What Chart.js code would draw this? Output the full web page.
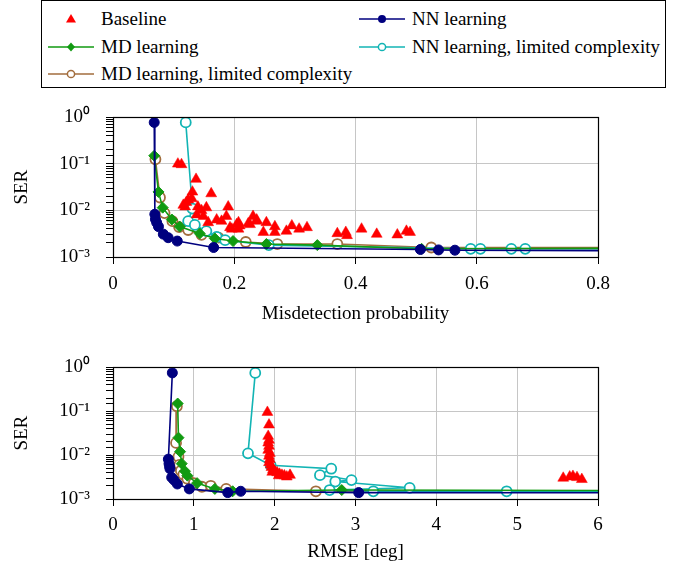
<!DOCTYPE html>
<html>
<head>
<meta charset="utf-8">
<script src="https://cdn.jsdelivr.net/npm/chart.js@4.4.0/dist/chart.umd.min.js"></script>
<style>
  body { margin: 0; background: #fff; width: 689px; height: 572px; overflow: hidden; position: relative;
         font-family: "Liberation Serif", "Times New Roman", serif; color: #000; }
  #legend { position: absolute; left: 41px; top: 0; width: 625px; height: 88px; border: 1px solid #000; box-sizing: border-box; }
  .item { position: absolute; display: flex; align-items: center; height: 24px; font-size: 19px; white-space: nowrap; }
  .item svg { margin-right: 7px; }
  canvas { position: absolute; left: 0; }
</style>
</head>
<body>
<div id="legend"></div>
<canvas id="top" width="689" height="250" style="top:90px"></canvas>
<canvas id="bottom" width="689" height="232" style="top:340px"></canvas>
<script>
// ---- data: top plot (misdetection probability vs SER) ----
const topBaseX = [0.107, 0.113, 0.137, 0.131, 0.162, 0.130, 0.124, 0.121, 0.116, 0.119, 0.140, 0.154, 0.190, 0.146,
  0.138, 0.149, 0.187, 0.231, 0.171, 0.237, 0.157, 0.179, 0.237, 0.207, 0.253, 0.223, 0.204, 0.226, 0.193, 0.207,
  0.196, 0.209, 0.248, 0.267, 0.267, 0.286, 0.295, 0.307, 0.320, 0.370, 0.384, 0.386, 0.410, 0.435, 0.469, 0.484, 0.490];
const topBaseSer = [0.100, 0.097, 0.047, 0.025, 0.023, 0.018, 0.017, 0.015, 0.013, 0.012, 0.012, 0.0115, 0.012, 0.010,
  0.0081, 0.0075, 0.0075, 0.0075, 0.0063, 0.0063, 0.0055, 0.0059, 0.0059, 0.0055, 0.0055, 0.0052, 0.0050, 0.0050, 0.0043, 0.0040,
  0.0040, 0.0047, 0.0034, 0.0045, 0.0034, 0.0036, 0.0047, 0.0040, 0.0043, 0.0032, 0.0034, 0.0029, 0.0040, 0.0031, 0.0030, 0.0036, 0.0034];

const topNnX = [0.068, 0.069, 0.070, 0.072, 0.075, 0.083, 0.091, 0.106, 0.166, 0.507, 0.537, 0.564, 0.95];
const topNnSer = [0.78, 0.0083, 0.0065, 0.0055, 0.0045, 0.0031, 0.0026, 0.0022, 0.0016, 0.00145, 0.00142, 0.0014, 0.00135];

const topMdX = [0.068, 0.075, 0.082, 0.097, 0.110, 0.143, 0.168, 0.198, 0.253, 0.337, 0.509, 0.95];
const topMdSer = [0.15, 0.025, 0.0115, 0.0064, 0.0045, 0.0032, 0.0025, 0.0022, 0.0019, 0.0018, 0.0015, 0.00155];

const topNnLimX = [0.120, 0.131, 0.124, 0.135, 0.154, 0.171, 0.185, 0.257, 0.590, 0.606, 0.657, 0.680, 0.95];
const topNnLimSer = [0.78, 0.011, 0.0059, 0.0049, 0.0036, 0.0027, 0.0023, 0.0018, 0.0015, 0.0015, 0.0015, 0.0015, 0.0015];

const topMdLimX = [0.070, 0.0775, 0.085, 0.098, 0.109, 0.124, 0.146, 0.174, 0.219, 0.271, 0.370, 0.525, 0.95];
const topMdLimSer = [0.126, 0.019, 0.0088, 0.0059, 0.0044, 0.0038, 0.0030, 0.0026, 0.0021, 0.0019, 0.0019, 0.0016, 0.00158];

// ---- data: bottom plot (RMSE in degrees vs SER) ----
const botBaseX = [1.91, 1.93, 1.92, 1.93, 1.92, 1.93, 1.92, 1.94, 1.93, 1.94, 1.93, 1.95, 1.96, 1.98, 2.00, 2.03, 2.06,
  2.09, 2.12, 2.15, 2.19, 2.05, 1.97, 5.57, 5.65, 5.69, 5.74, 5.80];
const botBaseSer = [0.095, 0.049, 0.027, 0.022, 0.019, 0.016, 0.013, 0.011, 0.0095, 0.008, 0.0068, 0.006, 0.0053, 0.0047,
  0.0043, 0.0040, 0.0037, 0.0035, 0.0034, 0.0032, 0.0035, 0.0034, 0.0041, 0.0030, 0.0032, 0.0033, 0.0031, 0.0028];

const botNnX = [0.734, 0.685, 0.693, 0.700, 0.705, 0.726, 0.755, 0.796, 0.944, 1.42, 1.58, 3.04, 6.5];
const botNnSer = [0.75, 0.0081, 0.0064, 0.0055, 0.0049, 0.0031, 0.0027, 0.0022, 0.0017, 0.0014, 0.0015, 0.0014, 0.00139];

const botMdX = [0.80, 0.81, 0.83, 0.85, 0.89, 0.92, 1.04, 1.26, 1.48, 2.83, 6.5];
const botMdSer = [0.15, 0.025, 0.012, 0.0064, 0.0043, 0.0034, 0.0023, 0.0017, 0.0015, 0.0016, 0.00155];

const botNnLimX = [1.76, 1.67, 1.95, 2.70, 2.56, 2.95, 2.75, 3.67, 2.68, 3.22, 4.87, 6.5];
const botNnLimSer = [0.75, 0.011, 0.0059, 0.0049, 0.0035, 0.0027, 0.0025, 0.0018, 0.0016, 0.0015, 0.0015, 0.0015];

const botMdLimX = [0.79, 0.78, 0.81, 0.82, 0.84, 0.87, 0.92, 1.00, 1.10, 1.21, 1.40, 2.51, 6.5];
const botMdLimSer = [0.13, 0.019, 0.0092, 0.0060, 0.0044, 0.0036, 0.0029, 0.0023, 0.0019, 0.0020, 0.0017, 0.0015, 0.0015];

const seriesNames = ["Baseline", "NN learning", "MD learning", "NN learning, limited complexity", "MD learning, limited complexity"];
const topTicks = [0, 0.2, 0.4, 0.6, 0.8];
const botTicks = [0, 1, 2, 3, 4, 5, 6];

const RED = "#ff0000", NAVY = "#00007f", GREEN = "#119a11", CYAN = "#12b4b4", BROWN = "#a26d3d";
const FONT = "'Liberation Serif', 'Times New Roman', serif";

const zip = (xs, ys) => xs.map((x, i) => ({ x: x, y: ys[i] }));
const SUP = { "0": "\u2070", "1": "\u00b9", "2": "\u00b2", "3": "\u00b3", "-": "\u207b" };
const isDecade = (v) => Math.abs(Math.log10(v) - Math.round(Math.log10(v))) < 1e-9;

function buildDatasets(d) {
    return [
        { label: seriesNames[0], data: zip(d[0][0], d[0][1]), showLine: false, pointStyle: "triangle",
          pointRadius: 6.3, backgroundColor: RED, borderColor: RED, borderWidth: 0.5 },
        { label: seriesNames[1], data: zip(d[1][0], d[1][1]), showLine: true, borderColor: NAVY, borderWidth: 1.6,
          pointStyle: "circle", pointRadius: 5, pointBackgroundColor: NAVY, pointBorderColor: NAVY, pointBorderWidth: 1 },
        { label: seriesNames[2], data: zip(d[2][0], d[2][1]), showLine: true, borderColor: GREEN, borderWidth: 1.6,
          pointStyle: "rectRot", pointRadius: 5.5, pointBackgroundColor: GREEN, pointBorderColor: GREEN, pointBorderWidth: 1 },
        { label: seriesNames[3], data: zip(d[3][0], d[3][1]), showLine: true, borderColor: CYAN, borderWidth: 1.6,
          pointStyle: "circle", pointRadius: 5, pointBackgroundColor: "#fff", pointBorderColor: CYAN, pointBorderWidth: 1.8 },
        { label: seriesNames[4], data: zip(d[4][0], d[4][1]), showLine: true, borderColor: BROWN, borderWidth: 1.6,
          pointStyle: "circle", pointRadius: 5, pointBackgroundColor: "#fff", pointBorderColor: BROWN, pointBorderWidth: 1.8 },
    ].map((ds) => Object.assign(ds, { tension: 0, clip: 0, pointHoverRadius: ds.pointRadius }));
}

// full box around the plot area, like the pgfplots frame
const framePlugin = {
    id: "frame",
    afterDraw(chart) {
        const a = chart.chartArea, ctx = chart.ctx;
        ctx.save();
        ctx.strokeStyle = "#000";
        ctx.lineWidth = 1.2;
        ctx.strokeRect(Math.round(a.left) + 0.5, Math.round(a.top) + 0.5,
            Math.round(a.right - a.left), Math.round(a.bottom - a.top));
        ctx.restore();
    },
};

function makeChart(id, datasets, xTicks, xTitle, pad, xHeight, tickPad, titlePad) {
    const xMax = xTicks[xTicks.length - 1];
    return new Chart(document.getElementById(id), {
        type: "scatter",
        data: { datasets: datasets },
        plugins: [framePlugin],
        options: {
            responsive: false,
            animation: false,
            events: [],
            layout: { padding: { left: 0, right: 91, top: pad, bottom: 0 } },
            plugins: { legend: { display: false }, tooltip: { enabled: false } },
            scales: {
                x: {
                    type: "linear", min: xTicks[0], max: xMax,
                    afterBuildTicks: (s) => { s.ticks = xTicks.map((v) => ({ value: v })); },
                    afterFit: (s) => { s.height = xHeight; },
                    grid: { color: "#c6c6c6", lineWidth: 1, tickColor: "#000", tickLength: 7 },
                    border: { color: "#000", width: 1 },
                    ticks: { color: "#000", padding: tickPad, font: { family: FONT, size: 19 },
                             callback: (v) => (v === 0 ? "0" : (xMax < 1 ? v.toFixed(1) : String(v))) },
                    title: { display: true, text: xTitle, color: "#000", font: { family: FONT, size: 19 },
                             padding: { top: 0, bottom: titlePad } },
                },
                y: {
                    type: "logarithmic", min: 1e-3, max: 1,
                    afterFit: (s) => { s.width = 113; },
                    grid: { color: (c) => (isDecade(c.tick.value) ? "#c6c6c6" : "rgba(0,0,0,0)"),
                            tickColor: "#000", tickLength: 7 },
                    border: { color: "#000", width: 1 },
                    ticks: { color: "#000", padding: 16, autoSkip: false, font: { family: FONT, size: 19 },
                             callback: (v) => {
                                 if (!isDecade(v)) return "";
                                 const e = String(Math.round(Math.log10(v)));
                                 return "10" + e.split("").map((ch) => SUP[ch]).join("");
                             } },
                    title: { display: true, text: "SER", color: "#000", font: { family: FONT, size: 19 },
                             padding: { top: 11, bottom: 0 } },
                },
            },
        },
    });
}

makeChart("top", buildDatasets([
    [topBaseX, topBaseSer], [topNnX, topNnSer], [topMdX, topMdSer], [topNnLimX, topNnLimSer], [topMdLimX, topMdLimSer],
]), topTicks, "Misdetection probability", 23, 83, 9, 15);

makeChart("bottom", buildDatasets([
    [botBaseX, botBaseSer], [botNnX, botNnSer], [botMdX, botMdSer], [botNnLimX, botNnLimSer], [botMdLimX, botMdLimSer],
]), botTicks, "RMSE [deg]", 14, 73, 8, 9);

// ---- legend (two columns, row-major like pgfplots) ----
function icon(kind, color) {
    const line = kind === "tri" ? "" : `<line x1="0" y1="12" x2="46" y2="12" stroke="${color}" stroke-width="1.6"/>`;
    let mark = "";
    if (kind === "tri") mark = `<polygon points="23,7 28,15.5 18,15.5" fill="${color}"/>`;
    if (kind === "dot") mark = `<circle cx="23" cy="12" r="4" fill="${color}"/>`;
    if (kind === "dia") mark = `<polygon points="23,7.5 27,12 23,16.5 19,12" fill="${color}"/>`;
    if (kind === "ring") mark = `<circle cx="23" cy="12" r="3.6" fill="#fff" stroke="${color}" stroke-width="1.5"/>`;
    return `<svg width="46" height="24" viewBox="0 0 46 24">${line}${mark}</svg>`;
}
const legendItems = [
    [seriesNames[0], icon("tri", RED), 6, 6],
    [seriesNames[1], icon("dot", NAVY), 317, 6],
    [seriesNames[2], icon("dia", GREEN), 6, 34],
    [seriesNames[3], icon("ring", CYAN), 317, 34],
    [seriesNames[4], icon("ring", BROWN), 6, 61],
];
document.getElementById("legend").innerHTML = legendItems
    .map(([name, svg, left, top]) => `<div class="item" style="left:${left}px;top:${top}px">${svg}<span>${name}</span></div>`)
    .join("");
</script>
</body>
</html>
